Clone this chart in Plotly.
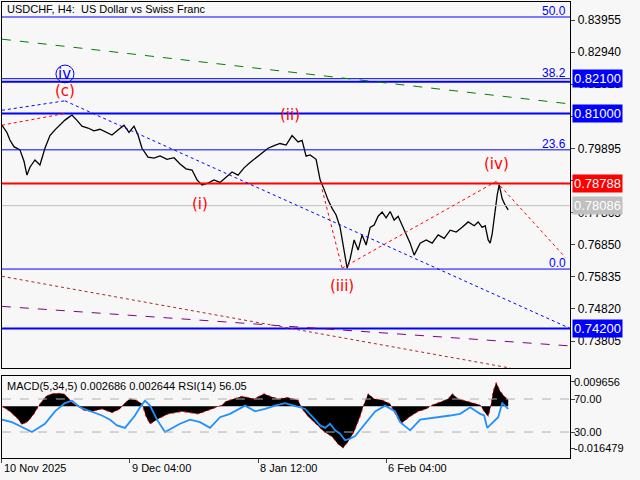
import plotly.graph_objects as go

# price path (x in bar-position units, value in price)
px_x = [0,5,8,12,18,22,25,28,33,38,43,48,53,58,63,66,70,75,80,86,92,98,104,110,116,122,127,132,136,140,146,152,158,165,172,178,184,190,195,200,206,212,218,224,230,236,242,248,254,260,266,272,278,284,290,296,300,304,308,314,318,322,326,330,334,338,340,342,345,348,352,356,360,364,368,372,376,380,384,388,392,396,400,404,408,412,418,424,430,436,442,448,454,460,466,472,476,480,483,486,488,490,493,495,497,500,503,506]
price = [0.8063,0.8040,0.8016,0.7995,0.7985,0.7950,0.7905,0.7930,0.7953,0.7937,0.7990,0.8030,0.8048,0.8065,0.8079,0.8086,0.8095,0.8078,0.8060,0.8054,0.8045,0.8050,0.8040,0.8032,0.8048,0.8063,0.8040,0.8060,0.8032,0.7990,0.7962,0.7959,0.7966,0.7955,0.7960,0.7940,0.7925,0.7921,0.7890,0.7874,0.7880,0.7890,0.7882,0.7900,0.7915,0.7905,0.7928,0.7945,0.7960,0.7975,0.7990,0.7998,0.8005,0.8000,0.8030,0.8010,0.8015,0.7965,0.7969,0.7955,0.7890,0.7860,0.7826,0.7800,0.7779,0.7740,0.7700,0.7660,0.7611,0.7640,0.7700,0.7668,0.7716,0.7684,0.7740,0.7747,0.7775,0.7788,0.7770,0.7790,0.7763,0.7775,0.7745,0.7720,0.7690,0.7652,0.7690,0.7700,0.7690,0.7716,0.7705,0.7731,0.7725,0.7740,0.7757,0.7745,0.7757,0.7740,0.7745,0.7700,0.7690,0.7720,0.7800,0.7842,0.7875,0.7830,0.7810,0.7795,0.7833]

# MACD histogram and RSI
m_x = [0,8,16,20,26,32,38,44,50,56,62,66,70,76,82,90,100,110,118,122,128,134,140,144,148,156,166,180,196,210,220,224,232,240,252,262,268,276,286,296,300,306,314,322,330,336,341,346,352,358,362,366,372,380,388,392,396,400,408,416,424,430,434,440,446,450,456,464,472,478,482,486,488,491,494,498,502,506]
macd = [0.0,-0.0020,-0.0050,-0.0072,-0.0060,-0.0030,0.0010,0.0040,0.0050,0.0052,0.0050,0.0035,0.0015,0.0,-0.0015,-0.0020,-0.0010,-0.0025,-0.0010,0.0010,0.0030,0.0025,0.0010,-0.0040,-0.0070,-0.0050,-0.0030,-0.0020,-0.0030,-0.0010,0.0005,0.0020,0.0030,0.0040,0.0030,0.0050,0.0040,0.0030,0.0035,0.0025,-0.0010,-0.0040,-0.0070,-0.0100,-0.0120,-0.0150,-0.0165,-0.0140,-0.0100,-0.0040,0.0010,0.0050,0.0030,0.0025,0.0010,-0.0020,-0.0050,-0.0065,-0.0040,-0.0020,-0.0010,0.0005,0.0010,0.0020,0.0030,0.0050,0.0030,0.0020,0.0010,0.0005,-0.0020,-0.0040,-0.0010,0.0060,0.0094,0.0060,0.0040,0.0027]
r_x = [0,10,20,30,43,53,63,70,78,90,100,108,115,123,133,138,143,148,155,163,170,178,188,198,208,218,228,233,243,253,263,273,283,298,303,313,318,323,328,333,338,343,348,353,363,373,383,388,393,398,408,418,438,448,458,468,478,482,485,491,496,500,506]
rsi = [45,42,36,30,40,55,65,68,60,55,50,45,38,35,50,60,68,62,45,30,35,40,45,42,35,48,52,55,62,55,58,62,65,60,58,45,38,35,40,32,28,20,22,25,40,55,62,58,55,42,32,45,48,50,52,60,52,50,35,42,48,65,58,56]

levels = [0.8405, 0.8210, 0.8200, 0.8100, 0.7985, 0.78788, 0.78086, 0.7608, 0.7420]
tick_vals = [0.83955,0.82940,0.81925,0.80910,0.79895,0.78880,0.77865,0.76850,0.75835,0.74820,0.73805]
date_x = [0,128,256,384]
date_lbl = ["10 Nov 2025","9 Dec 04:00","8 Jan 12:00","6 Feb 04:00"]

FONT = "Liberation Sans"
fig = go.Figure()
fig.add_trace(go.Scatter(x=px_x, y=price, mode="lines", line=dict(color="black", width=1.3), yaxis="y"))
fig.add_trace(go.Scatter(x=m_x, y=macd, mode="lines", fill="tozeroy", fillcolor="black",
                         line=dict(color="red", width=1, dash="dot"), xaxis="x2", yaxis="y2"))
fig.add_trace(go.Scatter(x=r_x, y=rsi, mode="lines", line=dict(color="#1e90ff", width=1.8), xaxis="x2", yaxis="y3"))

def hl(y, color, w, x0=0, x1=568, dash="solid"):
    fig.add_shape(type="line", xref="x", yref="y", x0=x0, x1=x1, y0=y, y1=y, line=dict(color=color, width=w, dash=dash))

hl(levels[0], "blue", 1); hl(levels[1], "blue", 1); hl(levels[2], "blue", 2)
hl(levels[3], "blue", 2); hl(levels[4], "blue", 1); hl(levels[5], "red", 2)
hl(levels[6], "#c0c0c0", 1); hl(levels[7], "blue", 1); hl(levels[8], "blue", 2)

def seg(pts, color, dash="dot", w=1):
    for (a, b) in zip(pts[:-1], pts[1:]):
        fig.add_shape(type="line", xref="x", yref="y", x0=a[0], y0=a[1], x1=b[0], y1=b[1], line=dict(color=color, width=w, dash=dash))

seg([(0, 0.8335), (568, 0.8130)], "green", "dash")
seg([(0, 0.8110), (63, 0.8140), (568, 0.7420)], "blue", "dot")
seg([(0, 0.7490), (568, 0.7365)], "purple", "dash")
seg([(0, 0.7585), (508, 0.7295)], "brown", "dot")
seg([(0, 0.8063), (63, 0.8100)], "red", "dot")
seg([(320, 0.7860), (340, 0.7611), (494, 0.7885), (563, 0.7645)], "red", "dot")

fig.add_shape(type="circle", xref="x", yref="y", x0=54, x1=72, y0=0.8197, y1=0.8253, line=dict(color="blue", width=1))

ann = []
def lab(x, y, t, c, **k):
    ann.append(dict(x=x, y=y, xref="x", yref="y", text=t, showarrow=False, font=dict(color=c, size=15, family="DejaVu Sans"), **k))
lab(63, 0.8170, "(c)", "red"); lab(288, 0.8095, "(ii)", "red"); lab(198, 0.7815, "(i)", "red")
lab(340, 0.7555, "(iii)", "red"); lab(494, 0.7940, "(iv)", "red")
lab(63, 0.8226, "iv", "blue")
for t, y in [("50.0", 0.8423), ("38.2", 0.8228), ("23.6", 0.8003), ("0.0", 0.7626)]:
    ann.append(dict(x=566, y=y, xref="x", yref="y", text=t, showarrow=False, xanchor="right", font=dict(color="blue", size=12, family=FONT)))
for t, y, bg in [("0.82100", 0.8210, "blue"), ("0.81000", 0.8100, "blue"), ("0.78788", 0.78788, "red"),
                 ("0.78086", 0.78086, "#c0c0c0"), ("0.74200", 0.7420, "blue")]:
    ann.append(dict(x=0.894, xref="paper", y=y, yref="y", text=t, showarrow=False, xanchor="left", bgcolor=bg,
                    font=dict(color="white", size=13, family=FONT), borderpad=1))
ann.append(dict(x=0.008, y=0.998, xref="paper", yref="paper", text="USDCHF, H4:  US Dollar vs Swiss Franc", showarrow=False,
                xanchor="left", yanchor="top", font=dict(size=11, color="black", family=FONT)))
ann.append(dict(x=0.008, y=0.212, xref="paper", yref="paper", text="MACD(5,34,5) 0.002686 0.002644 RSI(14) 56.05", showarrow=False,
                xanchor="left", yanchor="top", font=dict(size=11, color="black", family=FONT)))
for t, y, ax in [("0.009656", 0.009656, "y2"), ("-0.016479", -0.016479, "y2")]:
    ann.append(dict(x=0.894, xref="paper", y=y, yref=ax, text=t, showarrow=False, xanchor="left", font=dict(size=11, color="black", family=FONT)))
for t, y in [("70.00", 70), ("30.00", 30)]:
    ann.append(dict(x=0.894, xref="paper", y=y, yref="y3", text=t, showarrow=False, xanchor="left", font=dict(size=11, color="black", family=FONT)))
    fig.add_shape(type="line", xref="x2", yref="y3", x0=0, x1=568, y0=y, y1=y, line=dict(color="#b0b0b0", width=1, dash="dash"))
for xv, t in zip(date_x, date_lbl):
    ann.append(dict(x=xv, y=0.042, xref="x2", yref="paper", text=t, showarrow=False, xanchor="left", yanchor="top", font=dict(size=11, color="black", family=FONT)))

ax_font = dict(size=12, color="black", family=FONT)
fig.update_layout(
    width=640, height=480, margin=dict(l=0, r=0, t=0, b=0), showlegend=False,
    paper_bgcolor="#f7f7f7", plot_bgcolor="#f7f7f7", annotations=ann,
    xaxis=dict(domain=[0.003, 0.891], range=[0, 568], showticklabels=False, showgrid=False, zeroline=False,
               showline=True, linecolor="black", mirror=True, anchor="y"),
    yaxis=dict(domain=[0.2333, 0.9958], range=[0.72951, 0.84524], side="right", tickvals=tick_vals,
               ticktext=[f"{v:.5f}" for v in tick_vals], ticks="outside", ticklen=4, tickfont=ax_font,
               showgrid=False, zeroline=False, showline=True, linecolor="black", mirror=True, anchor="x"),
    xaxis2=dict(domain=[0.003, 0.891], range=[0, 568], tickvals=date_x, ticktext=[""]*4, ticks="outside", ticklen=4,
                showgrid=False, zeroline=False, showline=True, linecolor="black", mirror=True, anchor="y2"),
    yaxis2=dict(domain=[0.0458, 0.2167], range=[-0.02044, 0.01203], side="right", tickvals=[0.009656, -0.016479],
                ticktext=["", ""], ticks="outside", ticklen=4, showgrid=False, zeroline=False, showline=True,
                linecolor="black", mirror=True, anchor="x2"),
    yaxis3=dict(domain=[0.0458, 0.2167], range=[-1.5, 97.9], overlaying="y2", side="right", tickvals=[70, 30],
                ticktext=["", ""], ticks="outside", ticklen=4, showgrid=False, zeroline=False, anchor="x2"),
)
fig.write_html("out.html", config={"displayModeBar": False},
               post_script="document.body.style.margin='0';document.body.style.overflow='hidden';")
